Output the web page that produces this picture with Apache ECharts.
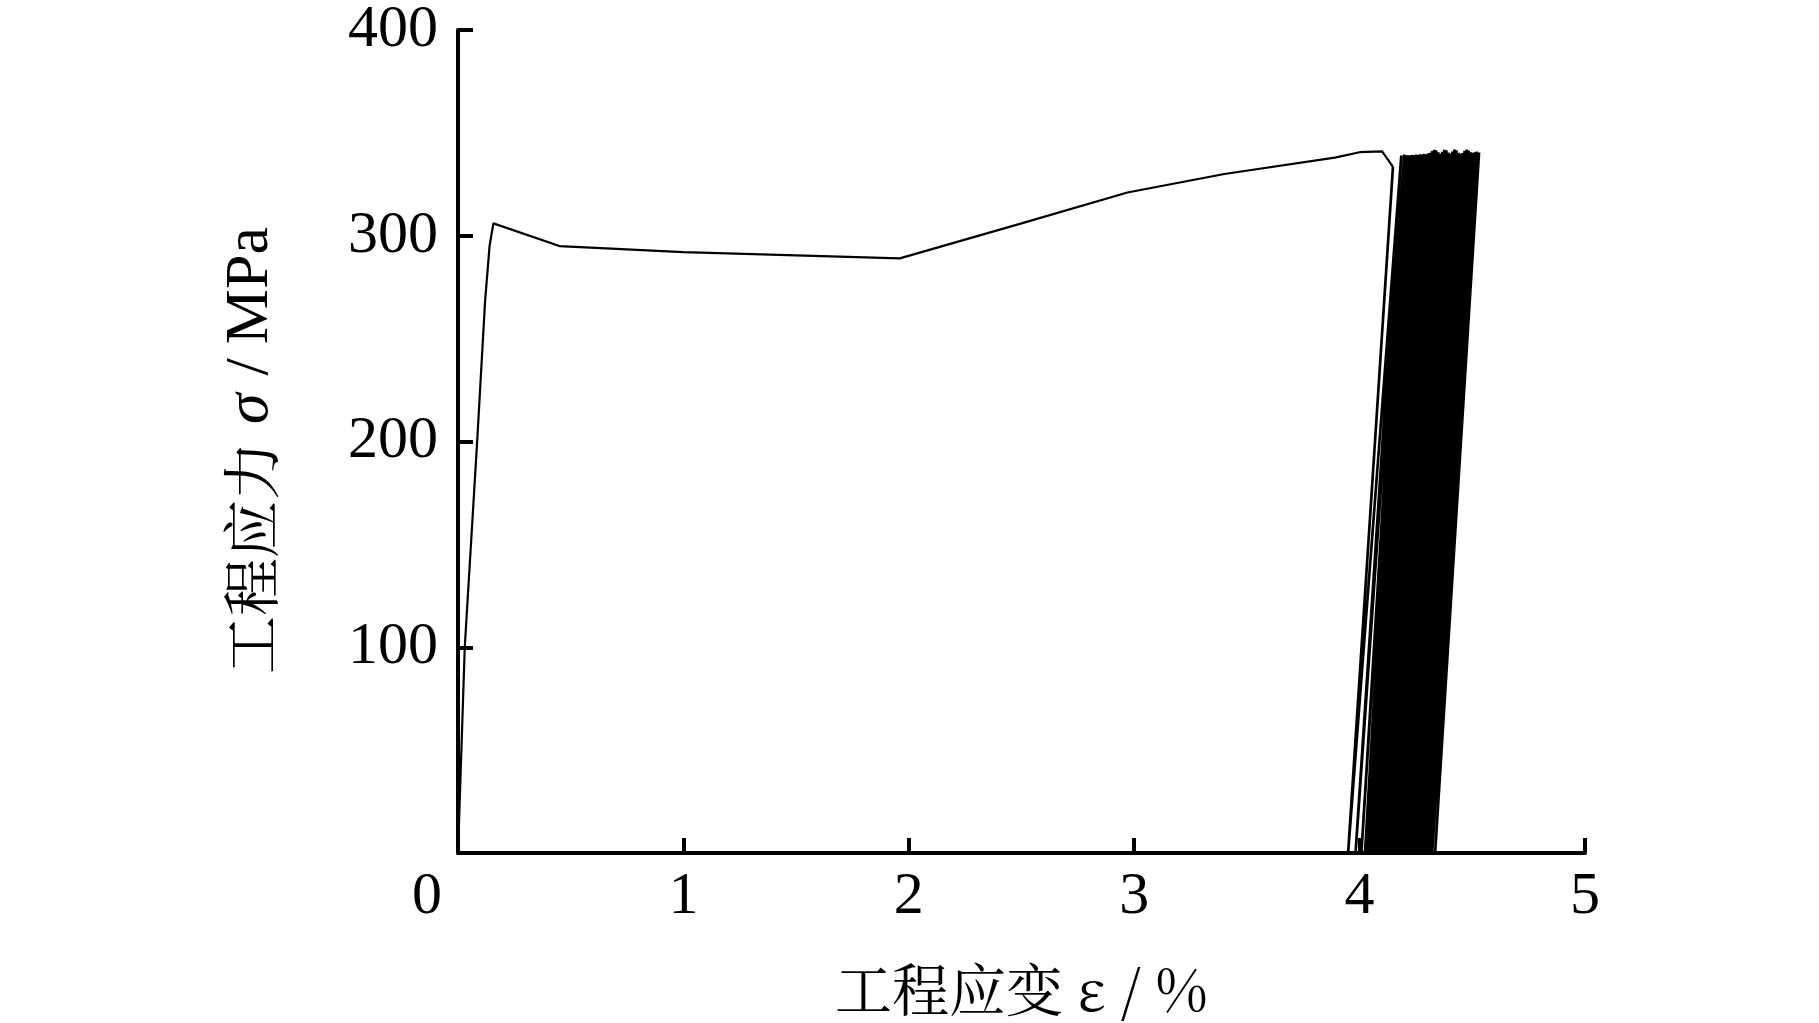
<!DOCTYPE html>
<html>
<head>
<meta charset="utf-8">
<script src="https://cdn.jsdelivr.net/npm/echarts@6/dist/echarts.min.js"></script>
<style>
html,body{margin:0;padding:0;background:#fff;}
#chart{width:1819px;height:1023px;}
</style>
</head>
<body>
<div id="chart"></div>
<script>
// Monotonic loading branch (strain %, stress MPa)
var monoStrain = [0, 0.03, 0.085, 0.12, 0.14, 0.157, 0.45, 1.0, 1.96, 2.5, 2.97, 3.4, 3.89, 4.0, 4.1, 4.148];
var monoStress = [0, 100, 200, 268, 295, 306, 295, 292, 289, 306, 321, 330, 338, 340.6, 341, 333.5];

// Cyclic part: valley strain (stress = 0) followed by next peak
var cycleValleyStrain = [3.949, 3.982, 4.008,
  4.024, 4.033, 4.041, 4.050, 4.058, 4.067, 4.075, 4.084, 4.092, 4.101, 4.109, 4.118, 4.126,
  4.135, 4.143, 4.152, 4.160, 4.169, 4.177, 4.186, 4.194, 4.203, 4.211, 4.220, 4.228, 4.237,
  4.245, 4.254, 4.262, 4.271, 4.279, 4.288, 4.296, 4.305, 4.313, 4.322, 4.335];
var cyclePeakStrain = [4.185, 4.198,
  4.205, 4.214, 4.223, 4.232, 4.241, 4.250, 4.259, 4.268, 4.277, 4.286, 4.295, 4.304, 4.313,
  4.322, 4.331, 4.340, 4.349, 4.358, 4.367, 4.376, 4.385, 4.394, 4.403, 4.412, 4.421, 4.430,
  4.439, 4.448, 4.457, 4.466, 4.475, 4.484, 4.493, 4.502, 4.511, 4.520, 4.530];
var cyclePeakStress = [339.0, 339.5,
  339.0, 339.2, 339.0, 339.3, 339.2, 339.5, 339.3, 339.6, 339.5, 339.8, 339.6, 340.0, 340.3,
  341.2, 341.8, 341.5, 340.6, 340.0, 340.8, 341.8, 341.6, 340.5, 340.0, 340.9, 341.9, 341.5,
  340.4, 339.9, 340.2, 341.3, 341.9, 341.4, 340.6, 340.3, 340.6, 340.9, 340.5];

var xTicks = [0, 1, 2, 3, 4, 5];
var yTicks = [0, 100, 200, 300, 400];

var monoData = [];
for (var i = 0; i < monoStrain.length; i++) monoData.push([monoStrain[i], monoStress[i]]);
var cycleData = [[monoStrain[monoStrain.length - 1], monoStress[monoStress.length - 1]]];
for (var j = 0; j < cycleValleyStrain.length; j++) {
  cycleData.push([cycleValleyStrain[j], 0]);
  if (j < cyclePeakStrain.length) cycleData.push([cyclePeakStrain[j], cyclePeakStress[j]]);
}

var chart = echarts.init(document.getElementById('chart'), null, {renderer: 'canvas'});
var serif = '"Liberation Serif","Times New Roman",serif';
var cjk = '"Noto Serif CJK SC","Noto Sans CJK SC",sans-serif';
chart.setOption({
  backgroundColor: '#fff',
  animation: false,
  grid: {left: 458, right: 234, top: 26, bottom: 170},
  xAxis: {
    type: 'value',
    min: xTicks[0], max: xTicks[xTicks.length - 1], interval: 1,
    axisLine: {show: true, lineStyle: {color: '#000', width: 4}},
    axisTick: {show: true, inside: true, length: 15, lineStyle: {color: '#000', width: 4}},
    splitLine: {show: false},
    axisLabel: {
      margin: 14, color: '#000', fontFamily: serif, fontSize: 60,
      formatter: function (v) { return v === 0 ? '{z|0}' : String(v); },
      rich: {z: {fontFamily: serif, fontSize: 60, color: '#000', padding: [0, 62, 0, 0]}}
    },
    name: '工程应变 ε / %',
    nameLocation: 'middle',
    nameGap: 108,
    nameTextStyle: {fontFamily: cjk, fontSize: 57, color: '#000'}
  },
  yAxis: {
    type: 'value',
    min: yTicks[0], max: yTicks[yTicks.length - 1], interval: 100,
    axisLine: {show: true, lineStyle: {color: '#000', width: 4}},
    axisTick: {show: true, inside: true, length: 15, lineStyle: {color: '#000', width: 4}},
    splitLine: {show: false},
    axisLabel: {showMinLabel: false, margin: 20, color: '#000', fontFamily: serif, fontSize: 60},
    name: '{a|工程应力}{b|σ}{d|/}{c|MPa}',
    nameLocation: 'middle',
    nameGap: 176,
    nameRotate: 90,
    nameTextStyle: {
      color: '#000',
      fontFamily: serif,
      fontSize: 60,
      rich: {
        a: {fontFamily: cjk, fontSize: 58, color: '#000'},
        b: {fontFamily: serif, fontStyle: 'italic', fontSize: 62, color: '#000', padding: [0, 4, 0, 18]},
        d: {fontFamily: serif, fontSize: 62, color: '#000', padding: [0, 14, 0, 14]},
        c: {fontFamily: serif, fontSize: 62, color: '#000', padding: [0, 18, 0, 0]}
      }
    }
  },
  series: [{
    type: 'line',
    data: monoData,
    showSymbol: false,
    symbol: 'none',
    lineStyle: {color: '#000', width: 2.2, join: 'bevel'},
    silent: true
  }, {
    type: 'line',
    data: cycleData,
    showSymbol: false,
    symbol: 'none',
    lineStyle: {color: '#000', width: 2.7, join: 'bevel'},
    silent: true
  }]
});
</script>
</body>
</html>
